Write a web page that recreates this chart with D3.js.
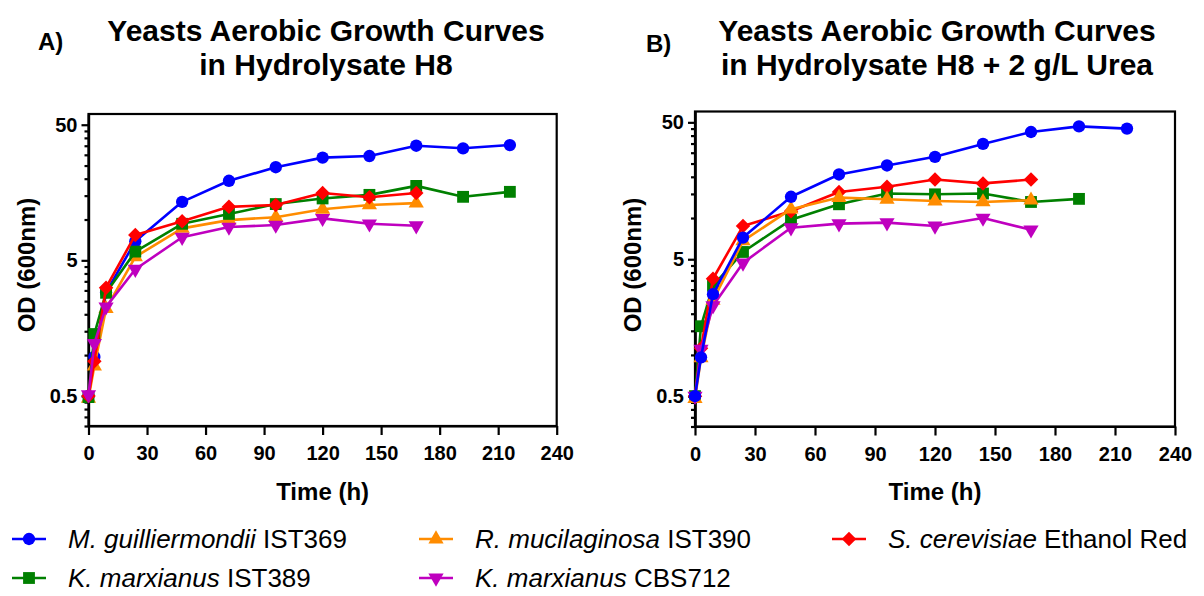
<!DOCTYPE html>
<html><head><meta charset="utf-8">
<script src="https://cdn.jsdelivr.net/npm/d3@7"></script>
<style>
body{margin:0;background:#fff;}
svg{display:block;font-family:"Liberation Sans",Arial,Helvetica,sans-serif;}
</style></head><body>
<svg id="chart" width="1204" height="596"></svg>
<script>
// Sampling times (h)
const times = [0, 3, 9, 24, 48, 72, 96, 120, 144, 168, 192, 216];

// OD600 — hydrolysate H8
const mGuilA  = [0.5, 0.97, 2.9, 6.9, 13.5, 19.3, 24.3, 28.6, 29.4, 35.0, 33.5, 35.4];
const kmIST389A = [0.49, 1.43, 2.88, 5.8, 9.3, 11.0, 13.0, 14.3, 15.2, 17.7, 14.7, 16.0];
const rMucA   = [0.48, 0.83, 2.2, 5.3, 8.6, 9.9, 10.4, 11.9, 12.8, 13.2];
const sCerA   = [0.5, 0.9, 3.14, 7.7, 9.7, 12.4, 12.8, 15.7, 14.6, 15.7];
const kmCBSA  = [0.51, 1.22, 2.27, 4.3, 7.4, 8.8, 9.1, 10.2, 9.3, 9.0];

// OD600 — hydrolysate H8 + 2 g/L urea
const mGuilB  = [0.5, 0.96, 2.78, 7.2, 14.3, 20.8, 24.2, 28.0, 34.8, 42.5, 46.7, 45.0];
const kmIST389B = [0.5, 1.62, 3.2, 5.65, 9.7, 12.6, 15.1, 14.9, 15.1, 13.1, 13.8];
const rMucB   = [0.48, 0.95, 2.5, 6.8, 11.6, 14.1, 13.7, 13.3, 13.1, 13.5];
const sCerB   = [0.5, 1.12, 3.6, 8.74, 11.2, 15.5, 16.9, 19.1, 17.9, 19.1];
const kmCBSB  = [0.5, 1.1, 2.29, 4.7, 8.5, 9.1, 9.25, 8.75, 10.0, 8.2];

// Axis ticks
const xTicks = [0, 30, 60, 90, 120, 150, 180, 210, 240];
const yMajorTicks = [0.5, 5, 50];
const yTickLabels = ["0.5", "5", "50"];
const yMinorTicks = [0.3, 0.35, 0.4, 0.45, 1, 1.5, 2, 2.5, 3, 3.5, 4, 4.5,
                     10, 15, 20, 25, 30, 35, 40, 45];
const xDomain = [0, 240];
const yDomain = [0.3, 60];

// Strain identities
const strains = {
  mg:  {species: "M. guilliermondii", strain: "IST369", color: "#0000ff", shape: "circle"},
  rm:  {species: "R. mucilaginosa", strain: "IST390", color: "#ff8c00", shape: "triangle"},
  sc:  {species: "S. cerevisiae", strain: "Ethanol Red", color: "#ff0000", shape: "diamond"},
  km1: {species: "K. marxianus", strain: "IST389", color: "#008000", shape: "square"},
  km2: {species: "K. marxianus", strain: "CBS712", color: "#bf00bf", shape: "triangleDown"}
};

const panels = [
  {
    label: "A)", labelX: 38, labelY: 50,
    title: ["Yeasts Aerobic Growth Curves", "in Hydrolysate H8"], titleX: 326,
    xRange: [88.5, 556.7], yRange: [426, 114], yTitleX: 26,
    series: {mg: mGuilA, km1: kmIST389A, rm: rMucA, sc: sCerA, km2: kmCBSA},
    order: ["mg", "rm", "km1", "sc", "km2"]
  },
  {
    label: "B)", labelX: 646, labelY: 52,
    title: ["Yeasts Aerobic Growth Curves", "in Hydrolysate H8 + 2 g/L Urea"], titleX: 937,
    xRange: [695, 1175], yRange: [426.5, 111.5], yTitleX: 632.5,
    series: {mg: mGuilB, km1: kmIST389B, rm: rMucB, sc: sCerB, km2: kmCBSB},
    order: ["km1", "sc", "rm", "km2", "mg"]
  }
];

const svg = d3.select("#chart");

function symbolPath(shape) {
  switch (shape) {
    case "circle": return d3.symbol().type(d3.symbolCircle).size(120)();
    case "square": return d3.symbol().type(d3.symbolSquare).size(140)();
    case "diamond": return d3.symbol().type(d3.symbolSquare).size(105)();
    default: return d3.symbol().type(d3.symbolTriangle).size(100)();
  }
}
function symbolRotation(shape) {
  if (shape === "diamond") return 45;
  if (shape === "triangleDown") return 180;
  return 0;
}

panels.forEach(p => {
  const g = svg.append("g");
  const x = d3.scaleLinear().domain(xDomain).range(p.xRange);
  const y = d3.scaleLog().domain(yDomain).range(p.yRange);

  // panel letter and title
  g.append("text").attr("x", p.labelX).attr("y", p.labelY)
    .attr("font-size", 24).attr("font-weight", "bold").text(p.label);
  p.title.forEach((line, i) => {
    g.append("text").attr("x", p.titleX).attr("y", 41 + i * 34)
      .attr("text-anchor", "middle").attr("font-size", 30).attr("font-weight", "bold")
      .text(line);
  });

  // frame
  g.append("rect")
    .attr("x", p.xRange[0]).attr("y", p.yRange[1])
    .attr("width", p.xRange[1] - p.xRange[0]).attr("height", p.yRange[0] - p.yRange[1])
    .attr("fill", "none").attr("stroke", "#000").attr("stroke-width", 2.2);

  // y axis: minor then major ticks
  const yMinor = g.append("g").attr("transform", `translate(${p.xRange[0]},0)`)
    .call(d3.axisLeft(y).tickValues(yMinorTicks).tickSize(4).tickSizeOuter(0).tickFormat(""));
  const yMajor = g.append("g").attr("transform", `translate(${p.xRange[0]},0)`)
    .call(d3.axisLeft(y).tickValues(yMajorTicks).tickSize(7).tickSizeOuter(0).tickPadding(4)
      .tickFormat((d, i) => yTickLabels[i]));
  const xAxis = g.append("g").attr("transform", `translate(0,${p.yRange[0]})`)
    .call(d3.axisBottom(x).tickValues(xTicks).tickSize(9).tickSizeOuter(0).tickPadding(11)
      .tickFormat(d3.format("d")));
  [yMinor, yMajor, xAxis].forEach(a => {
    a.selectAll("path.domain").attr("stroke", "#000").attr("stroke-width", 2.2);
    a.selectAll(".tick line").attr("stroke", "#000").attr("stroke-width", 2.2);
    a.selectAll(".tick text").attr("fill", "#000").attr("font-size", 20)
      .attr("font-weight", "bold").attr("font-family", "Liberation Sans, Arial, sans-serif");
  });

  // axis titles
  g.append("text")
    .attr("transform", `translate(${p.yTitleX},265) rotate(-90)`)
    .attr("text-anchor", "middle").attr("dominant-baseline", "central")
    .attr("font-size", 24).attr("font-weight", "bold").text("OD (600nm)");
  g.append("text")
    .attr("x", (p.xRange[0] + p.xRange[1]) / 2).attr("y", 500)
    .attr("text-anchor", "middle").attr("font-size", 24).attr("font-weight", "bold")
    .text("Time (h)");

  // growth curves
  const line = d3.line().x(d => x(d[0])).y(d => y(d[1]));
  p.order.forEach(key => {
    const s = strains[key];
    const pts = p.series[key].map((v, i) => [times[i], v]);
    const sg = g.append("g");
    sg.append("path").attr("d", line(pts)).attr("fill", "none")
      .attr("stroke", s.color).attr("stroke-width", 2.6).attr("stroke-linejoin", "round");
    sg.selectAll("path.pt").data(pts).join("path").attr("class", "pt")
      .attr("d", symbolPath(s.shape))
      .attr("transform", d => `translate(${x(d[0])},${y(d[1])}) rotate(${symbolRotation(s.shape)})`)
      .attr("fill", s.color);
  });
});

// legend
const legendItems = [
  {key: "mg", cx: 29, ty: 539}, {key: "rm", cx: 436, ty: 539}, {key: "sc", cx: 849, ty: 539},
  {key: "km1", cx: 29, ty: 578}, {key: "km2", cx: 436, ty: 578}
];
const lg = svg.append("g");
legendItems.forEach(it => {
  const s = strains[it.key];
  const row = lg.append("g").attr("transform", `translate(${it.cx},${it.ty})`);
  row.append("line").attr("x1", -17).attr("x2", 17).attr("stroke", s.color).attr("stroke-width", 2.6);
  row.append("path").attr("d", symbolPath(s.shape))
    .attr("transform", `rotate(${symbolRotation(s.shape)})`).attr("fill", s.color);
  const t = row.append("text").attr("x", 39).attr("dy", "0.36em").attr("font-size", 26).attr("fill", "#000");
  t.append("tspan").attr("font-style", "italic").text(s.species);
  t.append("tspan").text(" " + s.strain);
});
</script>
</body></html>
